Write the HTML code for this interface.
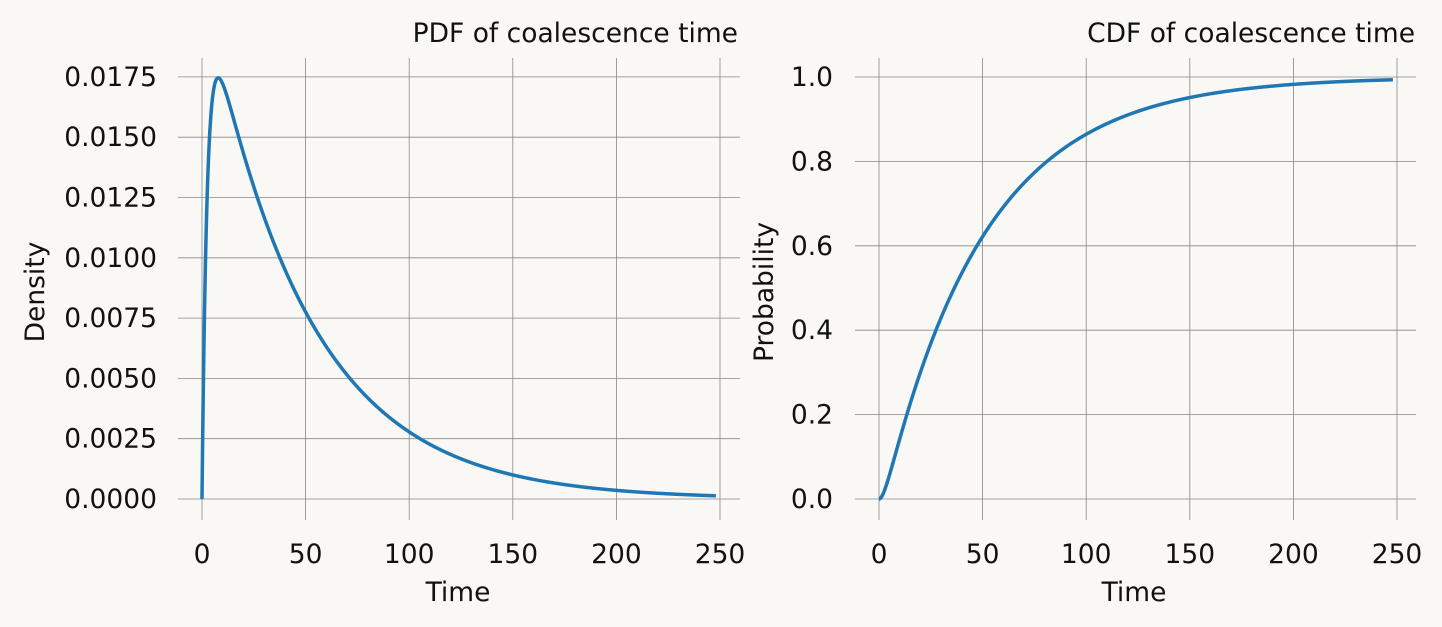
<!DOCTYPE html>
<html><head><meta charset="utf-8">
<style>
html,body{margin:0;padding:0;background:#f9f8f5;}
svg{display:block;}
text{font-family:"DejaVu Sans","Liberation Sans",sans-serif;fill:#111;}
</style></head>
<body>
<svg id="s" width="1442" height="627" xmlns="http://www.w3.org/2000/svg">
<rect width="1442" height="627" fill="#f9f8f5"/>
<g id="g1" stroke="#888" stroke-width="0.8"></g>
<g font-size="26.5">
<text x="738" y="42" text-anchor="end">PDF of coalescence time</text>
<text x="1415" y="42" text-anchor="end">CDF of coalescence time</text>
<text x="458" y="601" text-anchor="middle">Time</text>
<text x="1134" y="601" text-anchor="middle">Time</text>
<text transform="translate(44,292) rotate(-90)" text-anchor="middle">Density</text>
<text transform="translate(773,292) rotate(-90)" text-anchor="middle">Probability</text>
</g>
<g id="lab" font-size="26.5"></g>
<path id="p1" fill="none" stroke="#1f77b4" stroke-width="3.5"/>
<path id="p2" fill="none" stroke="#1f77b4" stroke-width="3.5"/>
</svg>
<script>
var g=document.getElementById('g1'),lab=document.getElementById('lab'),NS='http://www.w3.org/2000/svg';
function ln(x1,y1,x2,y2){var l=document.createElementNS(NS,'line');l.setAttribute('x1',x1);l.setAttribute('y1',y1);l.setAttribute('x2',x2);l.setAttribute('y2',y2);g.appendChild(l);}
function tx(x,y,s,a){var t=document.createElementNS(NS,'text');t.setAttribute('x',x);t.setAttribute('y',y);t.setAttribute('text-anchor',a);t.textContent=s;lab.appendChild(t);}
var X1=function(t){return 202+t*2.072},X2=function(t){return 879+t*2.072};
for(var i=0;i<=5;i++){var t=i*50;ln(X1(t),58,X1(t),520);ln(X2(t),58,X2(t),520);tx(X1(t),563,t,'middle');tx(X2(t),563,t,'middle');}
for(var i=0;i<=7;i++){var y=499-i*60.3;ln(178,y,740,y);tx(157,y+9,(i*0.0025).toFixed(4),'end');}
for(var i=0;i<=5;i++){var y=499-i*84.4;ln(855,y,1416,y);tx(833,y+9,(i*0.2).toFixed(1),'end');}
var a=0.0205,b=0.4,c=a*b/(b-a),d1='',d2='';
for(var k=0;k<=1000;k++){var t=248*Math.pow(k/1000,1.5);
var p=c*(Math.exp(-a*t)-Math.exp(-b*t));var F=1-(b*Math.exp(-a*t)-a*Math.exp(-b*t))/(b-a);
d1+=(k?'L':'M')+X1(t).toFixed(2)+','+(499-p/0.0025*60.3).toFixed(2);
d2+=(k?'L':'M')+X2(t).toFixed(2)+','+(499-F*422).toFixed(2);}
document.getElementById('p1').setAttribute('d',d1);document.getElementById('p2').setAttribute('d',d2);
</script>
</body></html>
